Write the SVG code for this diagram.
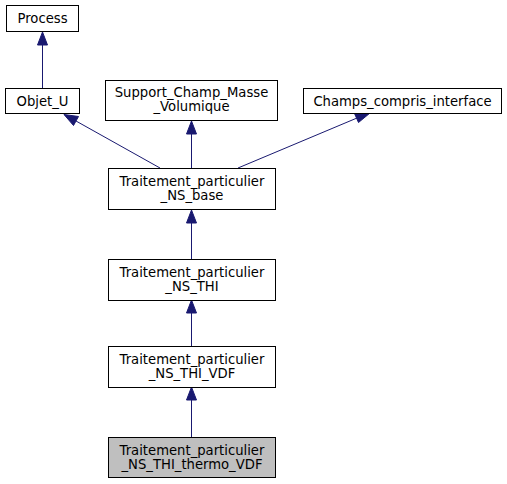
<svg xmlns="http://www.w3.org/2000/svg" width="507" height="484" viewBox="0 0 507 484">
<style>
.n rect{fill:#ffffff;stroke:#000000;stroke-width:1}
.n text{font-family:"DejaVu Sans",sans-serif;font-size:13.2px;fill:#000000;text-anchor:middle}
.e line{stroke:#191970;stroke-width:1}
.e polygon{fill:#191970;stroke:#191970;stroke-width:1}
</style>
<rect width="507" height="484" fill="#ffffff"/>
<g id="edges" class="e">
<line x1="42.5" y1="45" x2="42.5" y2="88"/>
<polygon points="42.5,32 37.5,45 47.5,45"/>
<line x1="76" y1="121" x2="160" y2="168"/>
<polygon points="64,114.5 73.5,125.5 78.5,116.5"/>
<line x1="191.5" y1="134" x2="191.5" y2="168"/>
<polygon points="191.5,121 186.5,134 196.5,134"/>
<line x1="357" y1="118" x2="238" y2="168"/>
<polygon points="370,113 354.5,113.5 358.5,122.5"/>
<line x1="191.5" y1="223" x2="191.5" y2="259"/>
<polygon points="191.5,210 186.5,223 196.5,223"/>
<line x1="191.5" y1="313" x2="191.5" y2="346"/>
<polygon points="191.5,300 186.5,313 196.5,313"/>
<line x1="191.5" y1="400" x2="191.5" y2="437"/>
<polygon points="191.5,387 186.5,400 196.5,400"/>
</g>
<g id="process" class="n"><rect x="6.5" y="5.5" width="72" height="26"/><text x="42.5" y="23">Process</text></g>
<g id="objet_u" class="n"><rect x="5.5" y="88.5" width="74" height="25"/><text x="42.5" y="105.5">Objet_U</text></g>
<g id="support" class="n"><rect x="105.5" y="80.5" width="172" height="40"/><text x="191.5" y="97">Support_Champ_Masse</text><text x="191.5" y="110.5">_Volumique</text></g>
<g id="champs" class="n"><rect x="303.5" y="88.5" width="198" height="25"/><text x="402.5" y="105.5">Champs_compris_interface</text></g>
<g id="base" class="n"><rect x="108.5" y="168.5" width="167" height="41"/><text x="192" y="186">Traitement_particulier</text><text x="192" y="200">_NS_base</text></g>
<g id="thi" class="n"><rect x="108.5" y="259.5" width="167" height="41"/><text x="192" y="277">Traitement_particulier</text><text x="192" y="291">_NS_THI</text></g>
<g id="thi_vdf" class="n"><rect x="108.5" y="346.5" width="167" height="41"/><text x="192" y="364">Traitement_particulier</text><text x="192" y="378">_NS_THI_VDF</text></g>
<g id="thermo" class="n"><rect x="108.5" y="437.5" width="167" height="40" style="fill:#bfbfbf"/><text x="192" y="455">Traitement_particulier</text><text x="192" y="469">_NS_THI_thermo_VDF</text></g>
</svg>
